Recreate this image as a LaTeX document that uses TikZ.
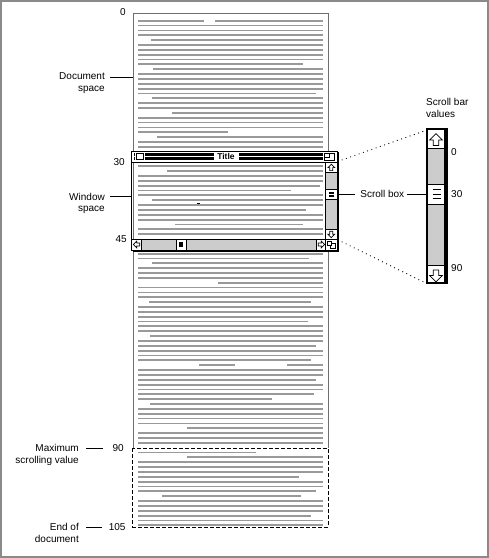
\documentclass[tikz,border=0pt]{standalone}
\usepackage{fontspec}
\setmainfont{Liberation Sans}
\usepackage{tikz}
\usepackage{xcolor}
\usetikzlibrary{calc}

\definecolor{txtgray}{HTML}{999999}
\definecolor{docgray}{HTML}{6E6E6E}
\definecolor{trackgray}{HTML}{CCCCCC}
\definecolor{framegray}{HTML}{8A8A8A}

\begin{document}
\begin{tikzpicture}[x=1pt, y=-1pt, font=\fontsize{10}{11.5}\selectfont,
    txt/.style={txtgray, line width=1.8pt},
    lbl/.style={inner sep=0pt},
    dots/.style={line width=0.9pt, dash pattern=on 0.9pt off 3.6pt},
    arrowicon/.pic={\draw[fill=white, line width=0.7pt, line join=miter]
        (0,-3.4) -- (3.4,0) -- (1.5,0) -- (1.5,3) -- (-1.5,3) -- (-1.5,0) -- (-3.4,0) -- cycle;}]
    \useasboundingbox (0,0) rectangle (489,558);
    \draw[framegray, line width=1.6pt] (0.8,0.8) rectangle (488,557);

    % document text lines, full width
    \foreach \i in {1,2,3,5,6,7,8,11,12,13,14,17,18,20,21,22,25,26,
                    30,32,33,36,38,40,41,43,44,
                    48,51,52,53,55,56,57,59,60,61,63,64,66,68,69,72,73,75,76,
                    80,81,82,83,85,86,87,91,92,93,95,96,99,100,101,103,104}
        \draw[txt] (138,{20.7+4.852*\i}) -- (323,{20.7+4.852*\i});
    % short and indented lines
    \foreach \i/\a/\b in {0/138/204, 0/215/323, 4/151/323, 9/138/303, 10/153/323,
                          15/138/316, 16/152/323, 19/172/323, 23/138/228, 24/157/323,
                          31/167/323, 34/138/320, 35/138/291, 37/152/323, 39/138/306,
                          42/175/303, 49/138/309, 50/152/323, 54/218/323, 58/149/311,
                          62/138/308, 65/150/323, 67/138/316, 70/138/311, 71/199/235,
                          71/287/323, 74/138/316, 77/138/314, 78/138/272, 79/150/323,
                          84/187/323, 89/138/256, 90/187/323, 94/138/299, 97/138/316,
                          98/162/301, 102/138/311}
        \draw[txt] (\a,{20.7+4.852*\i}) -- (\b,{20.7+4.852*\i});
    \draw[line width=1pt] (197,203.3) -- (200,203.3);

    % document edges
    \draw[docgray] (132.7,448.3) -- (132.7,13.3) -- (328,13.3) -- (328,448.3);
    \draw[line width=0.9pt, dash pattern=on 4pt off 2pt] (132.7,448.3) rectangle (328,527);

    % window with its shadow
    \draw[line width=1.6pt] (338,152) -- (338,250.8) -- (133,250.8);
    \draw[line width=1pt] (131.7,151) rectangle (337,250);
    \draw[line width=1pt, fill=white] (131.7,151) rectangle (337,162);
    \fill (134,152.7) rectangle (336,156);
    \fill (134,157) rectangle (336,160);
    \draw[fill=white, line width=0.8pt, draw=white] (135,152.5) rectangle (144.5,160.5);
    \draw[fill=white, line width=0.8pt] (136.5,153.5) rectangle (143,159.5);
    \draw[fill=white, line width=0.8pt, draw=white] (323.5,152.5) rectangle (335,160.5);
    \draw[fill=white, line width=0.8pt] (324.5,153.5) rectangle (334,160);
    \draw[line width=0.8pt] (324.5,153.5) rectangle (329,157);
    \node (ttl) at (226,156.5) [fill=white, inner xsep=3pt, inner ysep=0pt, minimum width=25pt,
        font=\bfseries\fontsize{8.5}{9}\selectfont] {Title};

    % vertical scroll bar of the window
    \draw[line width=1pt, fill=trackgray] (325.7,162) rectangle (337,239);
    \draw[line width=1pt, fill=white] (325.7,162) rectangle (337,172.7);
    \draw[line width=1pt, fill=white] (325.7,189.3) rectangle (337,199.3);
    \draw[line width=1pt, fill=white] (325.7,229.5) rectangle (337,239);
    \pic at (331.3,167.6) {arrowicon};
    \pic[rotate=180] at (331.3,234.2) {arrowicon};
    \fill (329,191.5) rectangle (333.5,197.3);
    \draw[white, line width=0.7pt] (329,194.4) -- (333.5,194.4);
    \coordinate (wthumb) at (337,194.3);

    % horizontal scroll bar of the window
    \draw[line width=1pt, fill=trackgray] (131.7,239) rectangle (325.7,250);
    \draw[line width=1pt, fill=white] (131.7,239) rectangle (141.7,250);
    \draw[line width=1pt, fill=white] (176.7,239) rectangle (186,250);
    \draw[line width=1pt, fill=white] (316.7,239) rectangle (325.7,250);
    \draw[line width=1pt, fill=white] (325.7,239) rectangle (337,250);
    \pic[rotate=90] at (136.7,244.5) {arrowicon};
    \pic[rotate=-90] at (321.2,244.5) {arrowicon};
    \fill (179.3,242) rectangle (183.3,246.8);
    \draw[line width=0.8pt] (330.5,243.5) rectangle (335,248);
    \draw[line width=0.8pt, fill=white] (327.8,241.2) rectangle (331.5,245);

    % enlarged scroll bar
    \fill[trackgray] (427.3,129.3) rectangle (445,283.3);
    \draw[line width=1pt, fill=white] (427.3,129.3) rectangle (445,148.3);
    \draw[line width=1pt, fill=white] (427.3,184.3) rectangle (445,204.3);
    \draw[line width=1pt, fill=white] (427.3,265) rectangle (445,283.3);
    \draw[line width=2pt] (427.3,129.3) rectangle (445,283.3);
    \fill (445,128.3) rectangle (448.3,284.3);
    \pic[scale=1.85] at (436,140) {arrowicon};
    \pic[scale=1.85, rotate=180] at (436,275.5) {arrowicon};
    \foreach \yy in {189.5,194.2,198.6}
        \draw[line width=0.9pt] (432.7,\yy) -- (440.7,\yy);
    \coordinate (bthumb) at (427.3,194.3);
    \coordinate (bartop) at (425,130.7);
    \coordinate (barbot) at (425,282.7);
    \coordinate (wintop) at (341.7,160);
    \coordinate (winbot) at (341.7,241.7);
    \draw[dots] (wintop) -- (bartop);
    \draw[dots] (winbot) -- (barbot);

    % values of the enlarged bar
    \node (sbvals) at (426,98.2) [lbl, align=left, anchor=north west] {Scroll bar\\values};
    \node (v0) at (451,151.7) [lbl, anchor=west] {0};
    \node (v30) at (451,194.3) [lbl, anchor=west] {30};
    \node (v90) at (451,268.3) [lbl, anchor=west] {90};
    \node (sbox) at (382.3,194.3) [lbl] {Scroll box};
    \draw[line width=0.9pt] (wthumb) -- ([xshift=-5pt]sbox.west);
    \draw[line width=0.9pt] ([xshift=3pt]sbox.east) -- (bthumb);

    % document values on the left
    \node (n0) at (126,12.5) [lbl, anchor=east] {0};
    \node (n30) at (125,162) [lbl, anchor=east] {30};
    \node (n45) at (127,239) [lbl, anchor=east] {45};
    \node (n90) at (124,448) [lbl, anchor=east] {90};
    \node (n105) at (125.7,527) [lbl, anchor=east] {105};
    \coordinate (docmark) at (132.7,77.3);
    \coordinate (winmark) at (131.7,196.5);
    \node (docsp) at (105,72.9) [lbl, align=right, anchor=north east] {Document\\space};
    \node (winsp) at (105,192.6) [lbl, align=right, anchor=north east] {Window\\space};
    \node (maxlbl) at (79,444.4) [lbl, align=right, anchor=north east] {Maximum\\scrolling value};
    \node (endlbl) at (79,523.1) [lbl, align=right, anchor=north east] {End of\\document};
    \draw[line width=0.9pt] ([xshift=5pt]docsp.east |- docmark) -- (docmark);
    \draw[line width=0.9pt] ([xshift=5pt]winsp.east |- winmark) -- (winmark);
    \draw[line width=0.9pt] ([xshift=7pt]maxlbl.east |- n90.west) -- ([xshift=-9pt]n90.west);
    \draw[line width=0.9pt] ([xshift=7pt]endlbl.east |- n105.west) -- ([xshift=-7pt]n105.west);
\end{tikzpicture}
\end{document}
